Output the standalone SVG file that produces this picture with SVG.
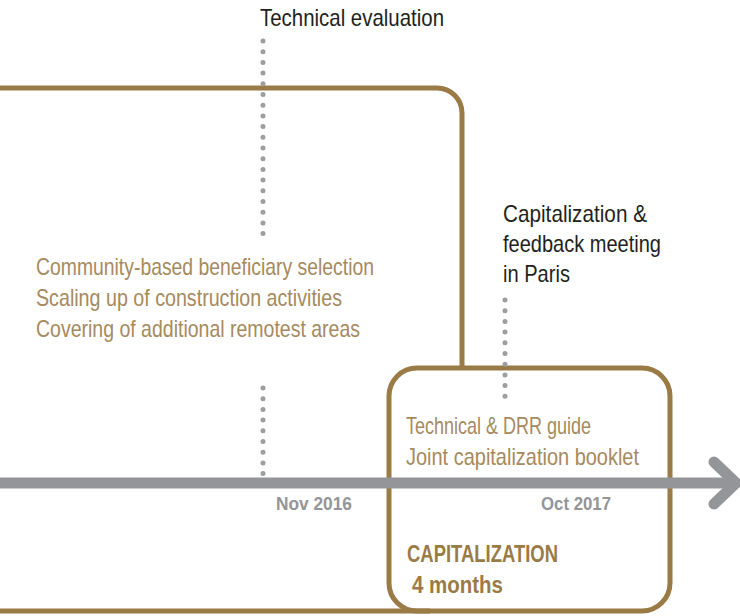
<svg xmlns="http://www.w3.org/2000/svg" width="740" height="616" viewBox="0 0 740 616">
<style>
.box{fill:none;stroke:#9a7b46;stroke-width:5}
.dots{fill:none;stroke:#9d9ea0;stroke-width:5;stroke-linecap:round;stroke-dasharray:0 10.7}
.t{font-family:"Liberation Sans Narrow","Liberation Sans",Arial,sans-serif}
.dark{fill:#231f20;font-size:24px}
.gold{fill:#a68a5e;font-size:24px}
.date{fill:#939598;font-size:19px;font-weight:bold}
.cap{fill:#9a7b46;font-size:23px;font-weight:bold}
</style>
<rect width="740" height="616" fill="#fff"/>
<g id="phase-box">
<path class="box" d="M -10 88 H 437 A 25 25 0 0 1 462 113 V 368 M -10 611 H 430"/>
</g>
<g id="capitalization-box">
<rect class="box" x="389" y="368" width="281" height="243" rx="28"/>
</g>
<g id="connectors">
<path class="dots" d="M 263 41 V 236"/>
<path class="dots" d="M 263 388 V 475"/>
<path class="dots" d="M 505 300 V 401"/>
<path d="M -5 483 H 730" fill="none" stroke="#939598" stroke-width="11"/>
<path d="M 714 462 L 736 483 L 714 504" fill="none" stroke="#939598" stroke-width="11" stroke-linecap="round" stroke-linejoin="round"/>
</g>
<g id="technical-evaluation">
<text class="t dark" x="260" y="26" textLength="184" lengthAdjust="spacingAndGlyphs">Technical evaluation</text>
</g>
<g id="paris-meeting">
<text class="t dark" x="503" y="222" textLength="144" lengthAdjust="spacingAndGlyphs">Capitalization &amp;</text>
<text class="t dark" x="503" y="252" textLength="158" lengthAdjust="spacingAndGlyphs">feedback meeting</text>
<text class="t dark" x="503" y="282" textLength="67" lengthAdjust="spacingAndGlyphs">in Paris</text>
</g>
<g id="phase-activities">
<text class="t gold" x="36" y="275" textLength="338" lengthAdjust="spacingAndGlyphs">Community-based beneficiary selection</text>
<text class="t gold" x="36" y="306" textLength="306" lengthAdjust="spacingAndGlyphs">Scaling up of construction activities</text>
<text class="t gold" x="36" y="337" textLength="324" lengthAdjust="spacingAndGlyphs">Covering of additional remotest areas</text>
</g>
<g id="capitalization-outputs">
<text class="t gold" x="406" y="434" textLength="185" lengthAdjust="spacingAndGlyphs">Technical &amp; DRR guide</text>
<text class="t gold" x="406" y="465" textLength="233" lengthAdjust="spacingAndGlyphs">Joint capitalization booklet</text>
</g>
<g id="dates">
<text class="t date" x="276" y="510" textLength="76" lengthAdjust="spacingAndGlyphs">Nov 2016</text>
<text class="t date" x="541" y="510" textLength="70" lengthAdjust="spacingAndGlyphs">Oct 2017</text>
</g>
<g id="capitalization-label">
<text class="t cap" x="407" y="562" textLength="151" lengthAdjust="spacingAndGlyphs">CAPITALIZATION</text>
<text class="t cap" x="412" y="593" textLength="91" lengthAdjust="spacingAndGlyphs">4 months</text>
</g>
</svg>
